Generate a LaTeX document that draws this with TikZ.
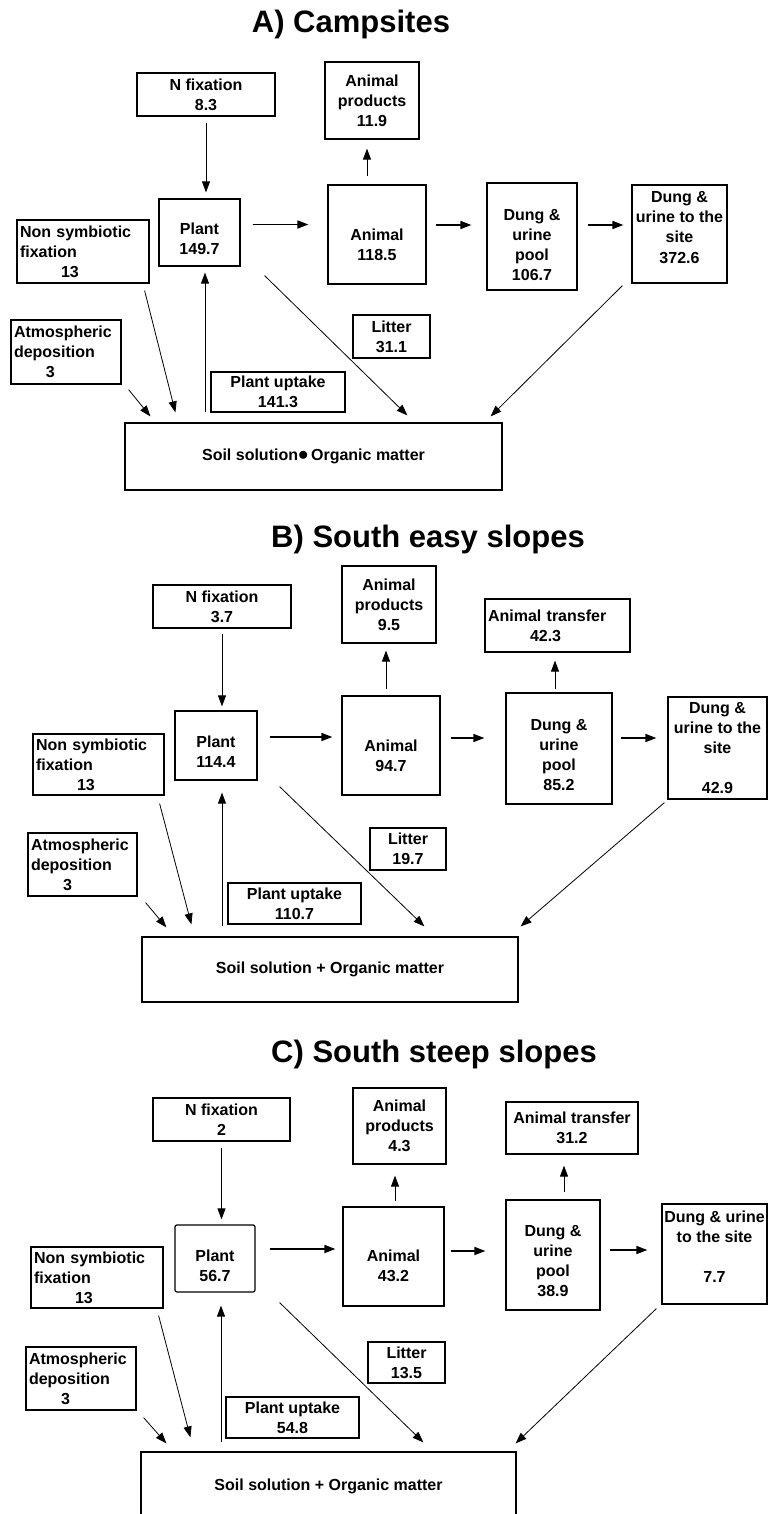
\documentclass[tikz,border=0pt]{standalone}
\usepackage{fontspec}
\setmainfont{Liberation Sans}
\usetikzlibrary{arrows.meta}

% text block moved down inside its box, box size untouched
\newcommand\sunk[2]{\raisebox{-#1}[\height][\depth]{\begin{tabular}{@{}c@{}}#2\end{tabular}}}

\begin{document}
\begin{tikzpicture}[x=1pt, y=-1pt, font=\fontsize{16}{20}\selectfont\bfseries,
  box/.style={draw, line width=1.2pt, inner sep=2pt, align=center},
  sz/.style 2 args={minimum width=#1, minimum height=#2},
  ttl/.style={font=\fontsize{31}{36}\selectfont\bfseries, anchor=base},
  flow/.style={-{Triangle[length=11pt,width=8pt]}, line width=0.8pt},
  hflow/.style={flow, line width=1.6pt}]

  \useasboundingbox (0,0) rectangle (769,1514);

  % ── A) Campsites ───────────────────────────────────────────────────
  \node[ttl] (Atitle) at (351,33) {A) Campsites};
  \node[box, sz={138}{43}] (Anfix) at (206,94.5) {N fixation\\8.3};
  \node[box, sz={94}{77}] (Aprod) at (372,100.5) {Animal\\products\\11.9};
  \node[box, sz={81}{67}] (Aplant) at (199.5,232.5) {\sunk{8.5pt}{Plant\\149.7}};
  \node[box, sz={98}{99}] (Aanimal) at (377,234.5) {\sunk{12pt}{Animal\\118.5}};
  \node[box, sz={90}{107}] (Apool) at (532,236.5) {\sunk{10pt}{Dung \&\\urine\\pool\\106.7}};
  \node[box, sz={95}{98}] (Asite) at (679.5,234) {\sunk{-5pt}{Dung \&\\urine to the\\site\\372.6}};
  \node[box, sz={132}{63}, text width=126pt, align=left] (Ansf) at (83,251.5)
    {Non symbiotic\\fixation\\\hspace*{41pt}13};
  \node[box, sz={110}{64}, text width=104pt, align=left] (Aatm) at (66,352)
    {Atmospheric\\deposition\\\hspace*{32pt}3};
  \node[box, sz={77}{43}] (Alitter) at (391.5,336.5) {Litter\\31.1};
  \node[box, sz={134}{40}] (Auptake) at (278,392) {Plant uptake\\141.3};
  \node[box, sz={377}{67}] (Asoil) at (313.5,456.5)
    {Soil solution{\fontsize{22}{20}\selectfont$\bullet$}\,Organic matter};

  % flows (gaps as in the original)
  \draw[flow, shorten <=6pt, shorten >=6pt] (Anfix.south) -- (Anfix.south |- Aplant.north);
  \draw[flow, shorten <=8pt, shorten >=9pt] ([xshift=-5pt]Aprod.south |- Aanimal.north) -- ([xshift=-5pt]Aprod.south);
  \draw[hflow, shorten <=12pt, shorten >=19pt] ([yshift=8pt]Aplant.east) -- ([yshift=8pt]Aplant.east -| Aanimal.west);
  \draw[hflow, shorten <=9pt, shorten >=15pt] ([yshift=9.5pt]Aanimal.east) -- ([yshift=9.5pt]Aanimal.east -| Apool.west);
  \draw[hflow, shorten <=10pt, shorten >=8pt] ([yshift=11.5pt]Apool.east) -- ([yshift=11.5pt]Apool.east -| Asite.west);
  \draw[flow] ([xshift=-5pt,yshift=-7pt]Ansf.south east) -- ([xshift=51pt,yshift=10pt]Asoil.north west);
  \draw[flow] ([xshift=7pt,yshift=-5pt]Aatm.south east) -- ([xshift=26pt,yshift=6pt]Asoil.north west);
  \draw[flow, shorten <=10pt, shorten >=6pt] ([xshift=5.5pt]Aplant.south |- Asoil.north) -- ([xshift=5.5pt]Aplant.south);
  \draw[flow] ([xshift=24pt,yshift=-9pt]Aplant.south east) -- ([xshift=283pt,yshift=7pt]Asoil.north west);
  \draw[flow] ([xshift=-9pt,yshift=-2pt]Asite.south west) -- ([xshift=-12pt,yshift=6pt]Asoil.north east);

  % ── B) South easy slopes ───────────────────────────────────────────
  \node[ttl] (Btitle) at (428,547) {B) South easy slopes};
  \node[box, sz={138}{43}] (Bnfix) at (222,606.5) {N fixation\\3.7};
  \node[box, sz={94}{77}] (Bprod) at (389,604.5) {Animal\\products\\9.5};
  \node[box, sz={145}{53}, text width=139pt, align=left] (Btransfer) at (557.5,625.5)
    {Animal transfer\\\hspace*{42pt}42.3};
  \node[box, sz={82}{69}] (Bplant) at (216,745.5) {\sunk{7.5pt}{Plant\\114.4}};
  \node[box, sz={98}{99}] (Banimal) at (391,745.5) {\sunk{11.5pt}{Animal\\94.7}};
  \node[box, sz={106}{111}] (Bpool) at (559,748.5) {\sunk{8pt}{Dung \&\\urine\\pool\\85.2}};
  \node[box, sz={99}{102}] (Bsite) at (717.5,748) {Dung \&\\urine to the\\site\\[20pt]42.9};
  \node[box, sz={131}{61}, text width=125pt, align=left] (Bnsf) at (98.5,764.5)
    {Non symbiotic\\fixation\\\hspace*{41pt}13};
  \node[box, sz={109}{63}, text width=103pt, align=left] (Batm) at (82.5,864.5)
    {Atmospheric\\deposition\\\hspace*{32pt}3};
  \node[box, sz={76}{42}] (Blitter) at (408,849) {Litter\\19.7};
  \node[box, sz={133}{41}] (Buptake) at (294.5,903.5) {Plant uptake\\110.7};
  \node[box, sz={376}{65}] (Bsoil) at (330,969.5) {Soil solution + Organic matter};

  \draw[flow, shorten <=5pt, shorten >=4pt] (Bnfix.south) -- (Bnfix.south |- Bplant.north);
  \draw[flow, shorten <=6pt, shorten >=7pt] ([xshift=-3pt]Bprod.south |- Banimal.north) -- ([xshift=-3pt]Bprod.south);
  \draw[flow, shorten <=3pt, shorten >=8pt] ([xshift=-2.5pt]Btransfer.south |- Bpool.north) -- ([xshift=-2.5pt]Btransfer.south);
  \draw[hflow, shorten <=12pt, shorten >=9pt] ([yshift=8.5pt]Bplant.east) -- ([yshift=8.5pt]Bplant.east -| Banimal.west);
  \draw[hflow, shorten <=10pt, shorten >=21pt] ([yshift=7.5pt]Banimal.east) -- ([yshift=7.5pt]Banimal.east -| Bpool.west);
  \draw[hflow, shorten <=8pt, shorten >=11pt] ([yshift=10.5pt]Bpool.east) -- ([yshift=10.5pt]Bpool.east -| Bsite.west);
  \draw[flow] ([xshift=-5pt,yshift=-8pt]Bnsf.south east) -- ([xshift=50pt,yshift=12pt]Bsoil.north west);
  \draw[flow] ([xshift=8pt,yshift=-6pt]Batm.south east) -- ([xshift=25pt,yshift=9pt]Bsoil.north west);
  \draw[flow, shorten <=10pt, shorten >=12pt] ([xshift=6pt]Bplant.south |- Bsoil.north) -- ([xshift=6pt]Bplant.south);
  \draw[flow] ([xshift=22pt,yshift=-6pt]Bplant.south east) -- ([xshift=283pt,yshift=10pt]Bsoil.north west);
  \draw[flow] ([xshift=-3pt,yshift=-3pt]Bsite.south west) -- ([xshift=2pt,yshift=10pt]Bsoil.north east);

  % ── C) South steep slopes ──────────────────────────────────────────
  \node[ttl] (Ctitle) at (434,1062) {C) South steep slopes};
  \node[box, sz={137}{43}] (Cnfix) at (221.5,1119.5) {N fixation\\2};
  \node[box, sz={93}{76}] (Cprod) at (399.5,1126) {Animal\\products\\4.3};
  \node[box, sz={132}{52}] (Ctransfer) at (572,1128) {Animal transfer\\31.2};
  \node[box, sz={80}{67}, rounded corners=2pt] (Cplant) at (215,1258.5) {\sunk{8.5pt}{Plant\\56.7}};
  \node[box, sz={101}{99}] (Canimal) at (393.5,1256.5) {\sunk{10.5pt}{Animal\\43.2}};
  \node[box, sz={94}{110}] (Cpool) at (553,1255) {\sunk{7.5pt}{Dung \&\\urine\\pool\\38.9}};
  \node[box, sz={105}{100}] (Csite) at (714.5,1254) {\sunk{-6pt}{Dung \& urine\\to the site\\[20pt]7.7}};
  \node[box, sz={132}{61}, text width=126pt, align=left] (Cnsf) at (97,1277.5)
    {Non symbiotic\\fixation\\\hspace*{41pt}13};
  \node[box, sz={110}{63}, text width=104pt, align=left] (Catm) at (81,1378.5)
    {Atmospheric\\deposition\\\hspace*{32pt}3};
  \node[box, sz={77}{41}] (Clitter) at (406.5,1362.5) {Litter\\13.5};
  \node[box, sz={133}{41}] (Cuptake) at (292.5,1417.5) {Plant uptake\\54.8};
  \node[box, sz={375}{68}] (Csoil) at (328.5,1486) {Soil solution + Organic matter};

  \draw[flow, shorten <=6pt, shorten >=5pt] (Cnfix.south) -- (Cnfix.south |- Cplant.north);
  \draw[flow, shorten <=5pt, shorten >=11pt] ([xshift=-4.5pt]Cprod.south |- Canimal.north) -- ([xshift=-4.5pt]Cprod.south);
  \draw[flow, shorten <=7pt, shorten >=11pt] ([xshift=-8pt]Ctransfer.south |- Cpool.north) -- ([xshift=-8pt]Ctransfer.south);
  \draw[hflow, shorten <=14pt, shorten >=7pt] ([yshift=9.5pt]Cplant.east) -- ([yshift=9.5pt]Cplant.east -| Canimal.west);
  \draw[hflow, shorten <=6pt, shorten >=20pt] ([yshift=5.5pt]Canimal.east) -- ([yshift=5.5pt]Canimal.east -| Cpool.west);
  \draw[hflow, shorten <=9pt, shorten >=14pt] ([yshift=5pt]Cpool.east) -- ([yshift=5pt]Cpool.east -| Csite.west);
  \draw[flow] ([xshift=-5pt,yshift=-7pt]Cnsf.south east) -- ([xshift=50pt,yshift=14pt]Csoil.north west);
  \draw[flow] ([xshift=7pt,yshift=-7pt]Catm.south east) -- ([xshift=26pt,yshift=8pt]Csoil.north west);
  \draw[flow, shorten <=9pt, shorten >=13pt] ([xshift=6pt]Cplant.south |- Csoil.north) -- ([xshift=6pt]Cplant.south);
  \draw[flow] ([xshift=24pt,yshift=-10pt]Cplant.south east) -- ([xshift=283pt,yshift=9pt]Csoil.north west);
  \draw[flow] ([xshift=-5pt,yshift=-4pt]Csite.south west) -- ([xshift=-1pt,yshift=8pt]Csoil.north east);

\end{tikzpicture}
\end{document}
